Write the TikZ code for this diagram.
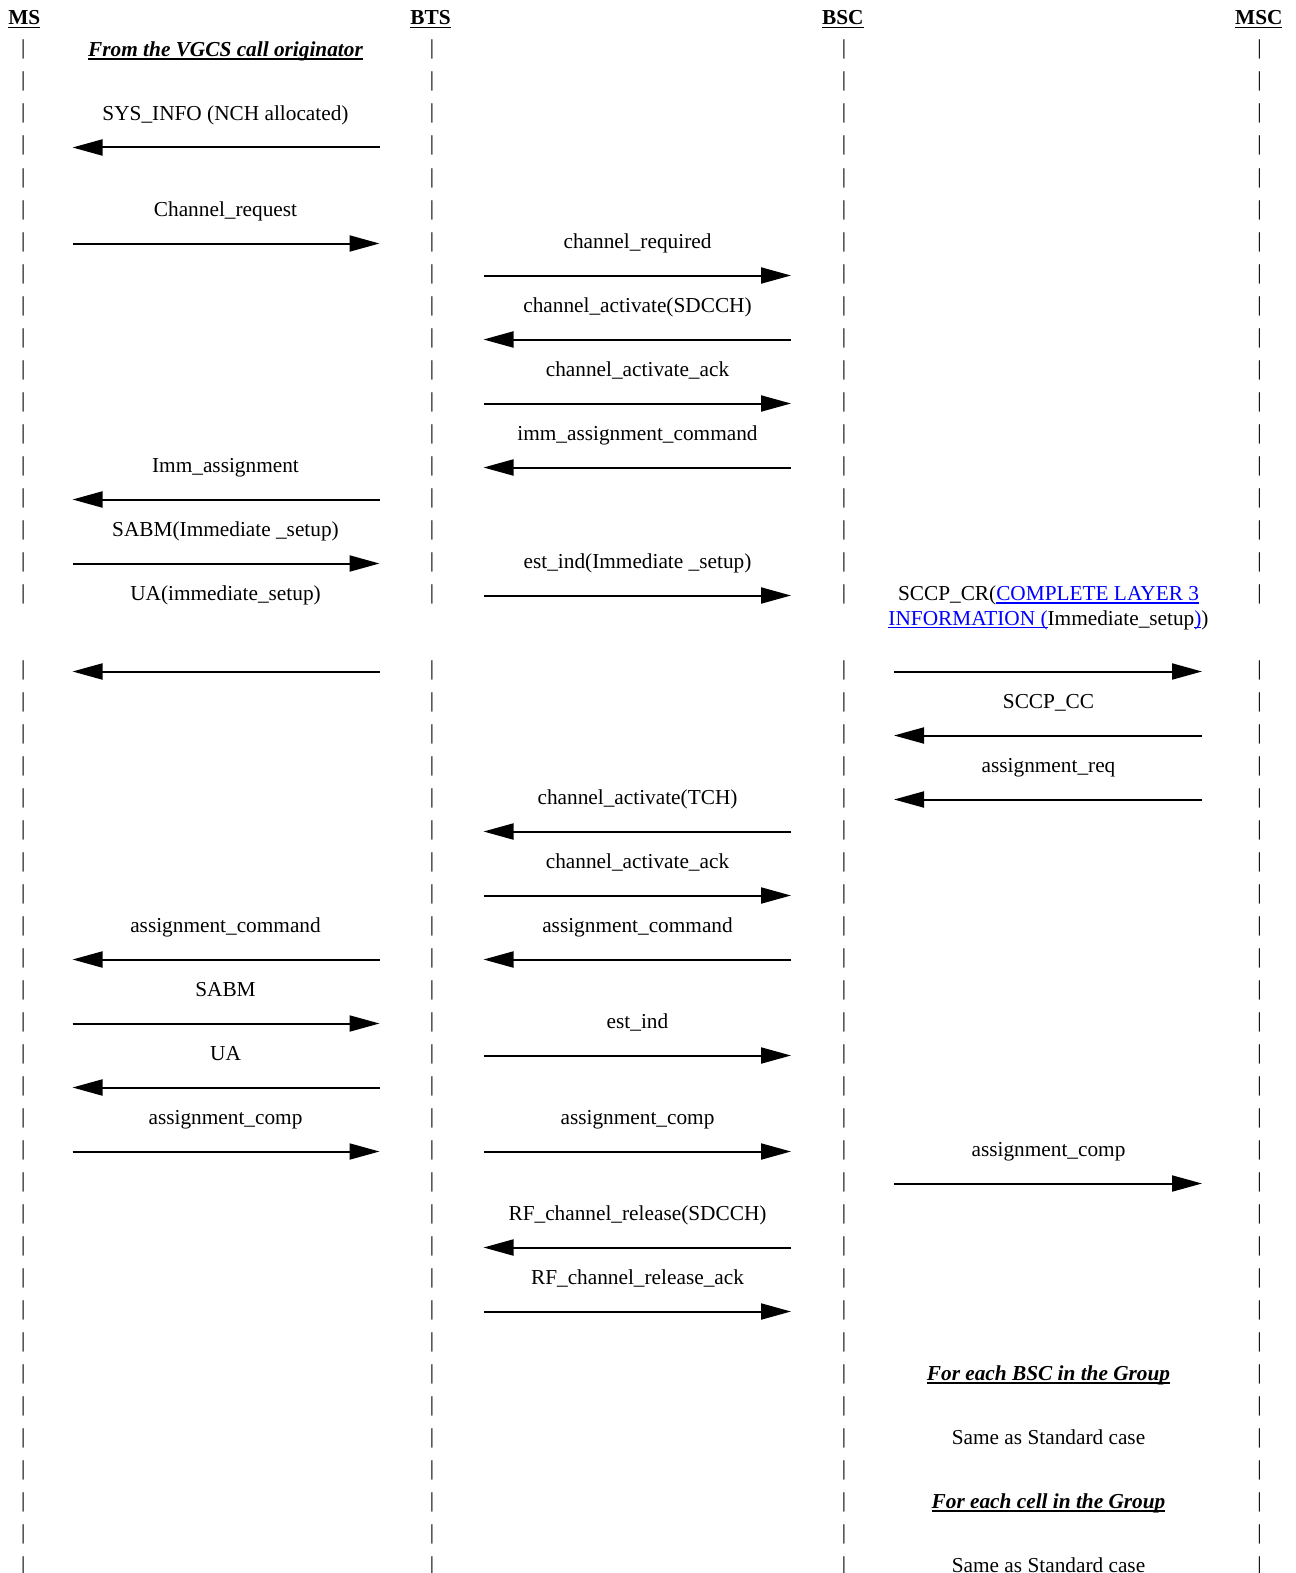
\documentclass[tikz,border=0pt]{standalone}
\usepackage{fontspec}
\setmainfont{Liberation Serif}
\usetikzlibrary{arrows.meta}
\definecolor{linkblue}{RGB}{0,0,255}
\newsavebox\ulbox
\newcommand\ulx[1]{\sbox\ulbox{#1}\rlap{\rule[-3.4pt]{\wd\ulbox}{1.8pt}}\usebox\ulbox}
\newcommand\lnk[1]{\textcolor{linkblue}{\ulx{#1}}}
\newcommand\sig[4]{\coordinate (#1-s) at (#2,#4); \coordinate (#1-e) at (#3,#4); \draw[msg] (#1-s) -- (#1-e);}
\def\aL{72.5}\def\aR{379.5}
\def\bL{483.5}\def\bR{791}
\def\cL{894}\def\cR{1202}
\def\ca{225.5}\def\cb{637.5}\def\cc{1048.5}
\begin{document}
\begin{tikzpicture}[x=1pt,y=-1pt,
  every node/.style={inner sep=0pt, outer sep=0pt, font=\fontsize{21.3}{24.5}\selectfont},
  lbl/.style={anchor=base, yshift=-1.5pt},
  bar/.style={anchor=base},
  hdr/.style={anchor=base, font=\fontsize{21.3}{24.5}\selectfont\bfseries},
  note/.style={anchor=base, yshift=-1.5pt, font=\fontsize{21.3}{24.5}\selectfont\bfseries\itshape},
  msg/.style={line width=2pt, -{Triangle[length=30pt,width=16pt]}}]
\useasboundingbox (0,0) rectangle (1295,1573);
% headers
\node[hdr] (ms)  at (24.3,25)   {\ulx{MS}};
\node[hdr] (bts) at (430.5,25)  {\ulx{BTS}};
\node[hdr] (bsc) at (842.8,25)  {\ulx{BSC}};
\node[hdr] (msc) at (1258.8,25) {\ulx{MSC}};
% lifelines made of bar characters
\foreach \c/\x in {1/23.3,2/432,3/844,4/1259.5}{
  \foreach \r in {50,82,...,594}{\node[bar] (b-\c-\r) at (\x,\r+5) {|};}
  \foreach \r in {670,702,...,1566}{\node[bar] (b-\c-\r) at (\x,\r+5) {|};}
}
% labels
\node[note] (t0) at (\ca,55) {\ulx{From the VGCS call originator}};
\node[lbl] (t1) at (\ca,119) {SYS\_INFO (NCH allocated)};
\node[lbl] (t2) at (\ca,215) {Channel\_request};
\node[lbl] (t3) at (\cb,247) {channel\_required};
\node[lbl] (t4) at (\cb,311) {channel\_activate(SDCCH)};
\node[lbl] (t5) at (\cb,375) {channel\_activate\_ack};
\node[lbl] (t6) at (\cb,439) {imm\_assignment\_command};
\node[lbl] (t7) at (\ca,471) {Imm\_assignment};
\node[lbl] (t8) at (\ca,535) {SABM(Immediate \_setup)};
\node[lbl] (t9) at (\cb,567) {est\_ind(Immediate \_setup)};
\node[lbl] (t10) at (\ca,599) {UA(immediate\_setup)};
\node[lbl] (t11a) at (\cc,599) {SCCP\_CR(\lnk{COMPLETE LAYER 3}};
\node[lbl] (t11b) at (\cc,623.5) {\lnk{INFORMATION (}Immediate\_setup\lnk{)})};
\node[lbl] (t12) at (\cc,707) {SCCP\_CC};
\node[lbl] (t13) at (\cc,771) {assignment\_req};
\node[lbl] (t14) at (\cb,803) {channel\_activate(TCH)};
\node[lbl] (t15) at (\cb,867) {channel\_activate\_ack};
\node[lbl] (t16) at (\ca,931) {assignment\_command};
\node[lbl] (t17) at (\cb,931) {assignment\_command};
\node[lbl] (t18) at (\ca,995) {SABM};
\node[lbl] (t19) at (\cb,1027) {est\_ind};
\node[lbl] (t20) at (\ca,1059) {UA};
\node[lbl] (t21) at (\ca,1123) {assignment\_comp};
\node[lbl] (t22) at (\cb,1123) {assignment\_comp};
\node[lbl] (t23) at (\cc,1155) {assignment\_comp};
\node[lbl] (t24) at (\cb,1219) {RF\_channel\_release(SDCCH)};
\node[lbl] (t25) at (\cb,1283) {RF\_channel\_release\_ack};
\node[note] (t26) at (\cc,1379) {\ulx{For each BSC in the Group}};
\node[lbl] (t27) at (\cc,1443) {Same as Standard case};
\node[note] (t28) at (\cc,1507) {\ulx{For each cell in the Group}};
\node[lbl] (t29) at (\cc,1571) {Same as Standard case};
% messages
\sig{m1}{\aR}{\aL}{147.5}
\sig{m2}{\aL}{\aR}{243.5}
\sig{m3}{\bL}{\bR}{275.5}
\sig{m4}{\bR}{\bL}{339.5}
\sig{m5}{\bL}{\bR}{403.5}
\sig{m6}{\bR}{\bL}{467.5}
\sig{m7}{\aR}{\aL}{499.5}
\sig{m8}{\aL}{\aR}{563.5}
\sig{m9}{\bL}{\bR}{595.5}
\sig{m10}{\aR}{\aL}{671.5}
\sig{m11}{\cL}{\cR}{671.5}
\sig{m12}{\cR}{\cL}{735.5}
\sig{m13}{\cR}{\cL}{799.5}
\sig{m14}{\bR}{\bL}{831.5}
\sig{m15}{\bL}{\bR}{895.5}
\sig{m16}{\aR}{\aL}{959.5}
\sig{m17}{\bR}{\bL}{959.5}
\sig{m18}{\aL}{\aR}{1023.5}
\sig{m19}{\bL}{\bR}{1055.5}
\sig{m20}{\aR}{\aL}{1087.5}
\sig{m21}{\aL}{\aR}{1151.5}
\sig{m22}{\bL}{\bR}{1151.5}
\sig{m23}{\cL}{\cR}{1183.5}
\sig{m24}{\bR}{\bL}{1247.5}
\sig{m25}{\bL}{\bR}{1311.5}
\end{tikzpicture}
\end{document}
